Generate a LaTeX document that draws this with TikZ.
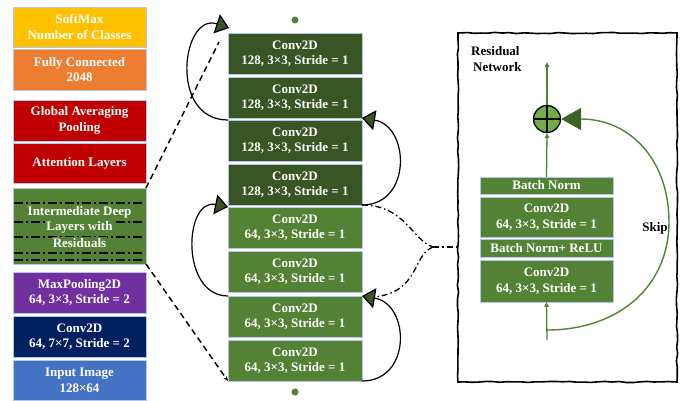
\documentclass[tikz,border=0pt]{standalone}
\usepackage{fontspec}
\setmainfont{Liberation Serif}
\usetikzlibrary{arrows.meta,decorations.pathmorphing}
\definecolor{cgold}{HTML}{FFC000}
\definecolor{corange}{HTML}{ED7D31}
\definecolor{cred}{HTML}{C00000}
\definecolor{cgreen}{HTML}{548235}
\definecolor{cdkgreen}{HTML}{375623}
\definecolor{cpurple}{HTML}{7030A0}
\definecolor{cnavy}{HTML}{002060}
\definecolor{cblue}{HTML}{4472C4}
\definecolor{cltgreen}{HTML}{70AD47}
\definecolor{cedge}{HTML}{B4C7E7}
\definecolor{carrowgreen}{HTML}{3B6323}
\begin{document}
\begin{tikzpicture}[x=1pt,y=-1pt,
  blk/.style={draw=cedge, line width=0.8pt, minimum width=133pt, inner sep=0pt, outer sep=0pt,
    text=white, font=\bfseries\fontsize{13}{15.5}\selectfont, align=center},
  mid/.style={blk, minimum width=134pt, minimum height=41pt},
  itext/.style={fill=cgreen, inner sep=1pt, text=white, font=\bfseries\fontsize{13}{15.5}\selectfont},
  ddline/.style={black, line width=1.5pt, dash pattern=on 9pt off 3pt on 2pt off 3pt},
  arc/.style={black, line width=1.2pt, -{Triangle[length=13pt,width=20pt,fill=cdkgreen]}},
  dline/.style={black, line width=1.5pt, dash pattern=on 6pt off 4pt},
  dd/.style={black, line width=1.3pt, dash pattern=on 6pt off 3pt on 1.5pt off 3pt},
  garrow/.style={cgreen, line width=1.3pt, -{Triangle[length=5pt,width=4.5pt]}},
  lbl/.style={text=black, font=\bfseries\fontsize{13}{16}\selectfont, inner sep=0pt},
  gdot/.style={circle, fill=cgreen, inner sep=0pt, minimum size=7pt}
]
\useasboundingbox (0,0) rectangle (688,400);
\pgfmathsetseed{7}

% left column
\node[blk, fill=cgold, minimum height=40pt] (sm) at (79.5,27) {SoftMax\\Number of Classes};
\node[blk, fill=corange, minimum height=41pt] (fc) at (79.5,69.5) {Fully Connected\\2048};
\node[blk, fill=cred, minimum height=41pt] (gap) at (79.5,120.5) {Global Averaging\\Pooling};
\node[blk, fill=cred, minimum height=40pt] (att) at (79.5,163) {Attention Layers};
\node[blk, fill=cgreen, minimum height=76pt] (inter) at (79.5,226) {};
\foreach \yy in {203,222,237,253,260} \draw[ddline] (14,\yy) -- (145,\yy);
\node[itext] (i1) at (79.5,212) {Intermediate Deep};
\node[itext] (i2) at (79.5,227.5) {Layers with};
\node[itext] (i3) at (79.5,243) {Residuals};
\node[blk, fill=cpurple, minimum height=41pt] (mp) at (79.5,292.5) {MaxPooling2D\\64, 3×3, Stride = 2};
\node[blk, fill=cnavy, minimum height=41pt] (c7) at (79.5,336.5) {Conv2D\\64, 7×7, Stride = 2};
\node[blk, fill=cblue, minimum height=40pt] (inp) at (79.5,380.5) {Input Image\\128×64};

% middle column
\node[mid, fill=cdkgreen] (b1) at (295,53.5) {Conv2D\\128, 3×3, Stride = 1};
\node[mid, fill=cdkgreen] (b2) at (295,97.5) {Conv2D\\128, 3×3, Stride = 1};
\node[mid, fill=cdkgreen] (b3) at (295,140.5) {Conv2D\\128, 3×3, Stride = 1};
\node[mid, fill=cdkgreen] (b4) at (295,184.5) {Conv2D\\128, 3×3, Stride = 1};
\node[mid, fill=cgreen] (b5) at (295,227.5) {Conv2D\\64, 3×3, Stride = 1};
\node[mid, fill=cgreen] (b6) at (295,271.5) {Conv2D\\64, 3×3, Stride = 1};
\node[mid, fill=cgreen] (b7) at (295,316.5) {Conv2D\\64, 3×3, Stride = 1};
\node[mid, fill=cgreen] (b8) at (295,360.5) {Conv2D\\64, 3×3, Stride = 1};
\node[gdot] (dtop) at (295,20) {};
\node[gdot] (dbot) at (295,392) {};

\coordinate (t1) at (229,28);
\draw[arc] (b3.north west) .. controls (168,120) and (182,12) .. (t1);
\draw[arc] (b4.south east) .. controls (412,205) and (410,126) .. (b2.south east);
\draw[arc] (b7.north west) .. controls (180,296) and (184,198) .. (b5.north west);
\draw[arc] (b8.south east) .. controls (412,381) and (410,304) .. (b7.north east);

\coordinate (d1) at (219,42);
\draw[dline] (inter.north east) -- (d1);
\draw[dline, -{Stealth[length=5pt,width=4pt]}] (inter.south east) -- (b8.south west);

% right panel
\node[draw=black, line width=1.6pt, minimum width=219pt, minimum height=349pt, inner sep=0pt,
      decorate, decoration={random steps, segment length=7pt, amplitude=0.6pt}] (panel) at (567.5,207.5) {};

\coordinate (br) at (433,247);
\coordinate (bre) at (374,297);
\draw[dd] (b4.south east) .. controls (405,205) and (412,240) .. (br);
\draw[dd] (br) .. controls (412,255) and (420,292) .. (bre);
\draw[dd] (br) -- (br -| panel.west);

\node[blk, fill=cgreen, minimum height=17pt] (rbn) at (546.5,185.5) {Batch Norm};
\node[blk, fill=cgreen, minimum height=40pt] (rc1) at (546.5,217) {Conv2D\\64, 3×3, Stride = 1};
\node[blk, fill=cgreen, minimum height=18pt] (rbr) at (546.5,248) {Batch Norm+ ReLU};
\node[blk, fill=cgreen, minimum height=42pt] (rc2) at (546.5,281) {Conv2D\\64, 3×3, Stride = 1};

\node[circle, draw=black, fill=cltgreen, line width=1.3pt, minimum size=27pt, inner sep=0pt] (plus) at (547,119) {};
\draw[black, line width=1.3pt] (plus.north) -- (plus.south) (plus.west) -- (plus.east);

\coordinate (out) at (547,62);
\coordinate (rin) at (547,340);
\coordinate (sk) at (547,330);
\draw[garrow] (rbn.north) -- (plus.south);
\draw[garrow] (plus.north) -- (out);
\draw[garrow] (rin) -- (rc2.south);
\draw[cgreen, line width=1.4pt, -{Triangle[length=20pt,width=22pt,fill=carrowgreen,color=carrowgreen]}]
  (sk) .. controls (620,330) and (669,285) .. (669,222) .. controls (669,160) and (630,119) .. (plus.east);

\node[lbl, anchor=north west, align=left] (rn) at (471,46) {Residual\\\hspace{2pt}Network};
\node[lbl] (skip) at (655,228) {Skip};
\end{tikzpicture}
\end{document}
